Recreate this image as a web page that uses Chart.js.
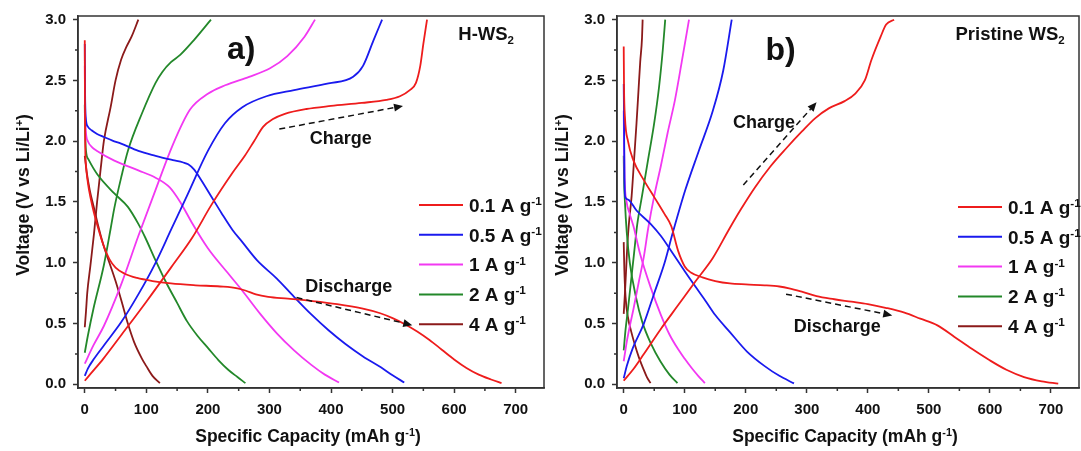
<!DOCTYPE html>
<html><head><meta charset="utf-8">
<script src="https://cdn.jsdelivr.net/npm/chart.js@4.4.1/dist/chart.umd.min.js"></script>
<style>
html,body{margin:0;padding:0;background:#fff;}
#wrap{position:relative;width:1081px;height:451px;overflow:hidden;background:#fff;}
#cA{position:absolute;left:0;top:0;width:548px;height:451px;}
#cB{position:absolute;left:539px;top:0;width:542px;height:451px;}
</style></head><body>
<div id="wrap"><canvas id="cA" width="548" height="451"></canvas><canvas id="cB" width="542" height="451"></canvas></div>
<script>
// ---------- data (Specific capacity mAh/g, Voltage V) ----------
const RATES = ['0.1', '0.5', '1', '2', '4'];
const COLORS = ['#ee1c1c', '#1a1aee', '#f238f2', '#23882a', '#8b1a1a'];

const X_TICKS = [0, 50, 100, 150, 200, 250, 300, 350, 400, 450, 500, 550, 600, 650, 700];
const X_LABELS = [0, 100, 200, 300, 400, 500, 600, 700];
const Y_TICKS = [0, 0.25, 0.5, 0.75, 1, 1.25, 1.5, 1.75, 2, 2.25, 2.5, 2.75, 3];
const Y_LABELS = [0, 0.5, 1, 1.5, 2, 2.5, 3];

// H-WS2 (panel a)
const H_D01 = [[0,2.83],[0.3,2.3],[0.8,1.95],[2,1.8],[5,1.66],[10,1.52],[15,1.41],[22,1.28],[30,1.15],[40,1.03],[50,0.96],[65,0.91],[85,0.875],[110,0.85],[140,0.83],[180,0.815],[220,0.805],[248,0.79],[262,0.77],[278,0.74],[298,0.72],[330,0.705],[370,0.685],[410,0.66],[450,0.625],[480,0.585],[500,0.545],[520,0.495],[540,0.435],[560,0.365],[580,0.285],[600,0.205],[620,0.135],[640,0.08],[660,0.04],[677,0.01]];
const H_C01 = [[0,0.03],[10,0.09],[30,0.21],[60,0.41],[100,0.68],[140,0.96],[175,1.21],[205,1.47],[240,1.74],[260,1.88],[275,2.0],[290,2.12],[305,2.18],[325,2.225],[360,2.265],[400,2.29],[450,2.315],[490,2.34],[512,2.37],[528,2.42],[538,2.48],[545,2.62],[550,2.8],[556,3.0]];
const H_D05 = [[0,2.8],[0.5,2.4],[1.5,2.2],[5,2.12],[11,2.09],[20,2.06],[31,2.035],[45,2.005],[59,1.98],[87,1.92],[115,1.88],[143,1.845],[160,1.825],[168,1.81],[177,1.77],[188,1.69],[205,1.55],[222,1.41],[240,1.27],[256,1.17],[280,1.02],[312,0.87],[340,0.72],[368,0.575],[396,0.445],[424,0.33],[452,0.23],[481,0.14],[500,0.075],[519,0.015]];
const H_C05 = [[0,0.07],[5,0.13],[15,0.21],[31,0.32],[59,0.51],[87,0.74],[115,1.0],[140,1.27],[166,1.55],[200,1.92],[228,2.15],[256,2.28],[295,2.37],[340,2.42],[396,2.475],[436,2.53],[452,2.62],[469,2.83],[483,3.0]];
const H_D1 = [[0,2.62],[0.5,2.3],[1.5,2.1],[5,2.0],[12,1.95],[20,1.92],[48,1.84],[87,1.76],[115,1.7],[138,1.62],[155,1.5],[174,1.33],[200,1.12],[230,0.93],[256,0.77],[285,0.58],[312,0.42],[340,0.28],[368,0.16],[390,0.08],[413,0.015]];
const H_C1 = [[0,0.17],[14,0.32],[31,0.48],[59,0.82],[87,1.22],[115,1.6],[143,1.97],[171,2.26],[200,2.39],[228,2.46],[267,2.53],[301,2.6],[329,2.7],[357,2.86],[374,3.0]];
const H_D2 = [[0,2.3],[0.5,2.1],[2,1.92],[6,1.85],[20,1.73],[48,1.57],[70,1.46],[87,1.32],[98,1.21],[115,1.02],[132,0.84],[150,0.67],[166,0.52],[183,0.4],[200,0.3],[217,0.2],[233,0.12],[248,0.06],[261,0.01]];
const H_C2 = [[0,0.26],[5,0.4],[14,0.62],[31,0.98],[42,1.28],[48,1.45],[60,1.72],[70,1.92],[93,2.23],[115,2.48],[126,2.57],[140,2.65],[155,2.71],[177,2.83],[205,3.0]];
const H_D4 = [[0,1.88],[3,1.75],[8,1.6],[15,1.45],[22,1.3],[30,1.15],[40,1.0],[50,0.85],[60,0.68],[70,0.5],[80,0.35],[93,0.21],[100,0.15],[110,0.07],[122,0.01]];
const H_C4 = [[0,0.47],[2,0.6],[4,0.75],[9,0.97],[15,1.24],[20,1.5],[26,1.78],[31,2.0],[42,2.28],[50,2.5],[59,2.67],[68,2.78],[76,2.86],[87,3.0]];

// Pristine WS2 (panel b)
const P_D01 = [[0,2.78],[0.5,2.45],[2,2.2],[7,2.0],[16,1.84],[33,1.68],[50,1.54],[67,1.4],[78,1.3],[89,1.1],[100,0.97],[110,0.92],[129,0.88],[150,0.85],[174,0.83],[200,0.822],[231,0.815],[255,0.805],[271,0.79],[293,0.76],[316,0.725],[345,0.7],[373,0.68],[400,0.66],[429,0.63],[460,0.59],[486,0.54],[514,0.485],[542,0.39],[571,0.29],[599,0.2],[627,0.12],[656,0.06],[685,0.025],[712,0.006]];
const P_C01 = [[0,0.03],[15,0.12],[33,0.25],[60,0.45],[89,0.65],[118,0.85],[146,1.04],[172,1.27],[192,1.44],[215,1.62],[240,1.79],[266,1.94],[292,2.08],[314,2.19],[336,2.27],[362,2.33],[379,2.39],[395,2.5],[406,2.67],[421,2.86],[430,2.96],[443,3.0]];
const P_D05 = [[0,2.47],[0.5,2.2],[1.2,1.7],[2.5,1.54],[7,1.52],[21,1.43],[44,1.32],[61,1.22],[80,1.08],[100,0.93],[118,0.8],[135,0.68],[150,0.57],[174,0.43],[202,0.27],[231,0.15],[255,0.07],[279,0.008]];
const P_C05 = [[0,0.05],[5,0.15],[15,0.3],[33,0.5],[50,0.75],[67,1.0],[80,1.24],[101,1.6],[123,1.92],[146,2.25],[163,2.58],[177,3.0]];
const P_D1 = [[0,2.25],[0.5,2.0],[1.5,1.7],[4.5,1.51],[10,1.4],[16,1.3],[27,1.07],[44,0.8],[61,0.57],[75,0.41],[89,0.29],[100,0.21],[112,0.13],[122,0.07],[133,0.01]];
const P_C1 = [[0,0.19],[5,0.35],[10,0.48],[16,0.62],[25,0.85],[33,1.05],[40,1.28],[50,1.55],[61,1.8],[72,2.07],[84,2.34],[95,2.65],[107,3.0]];
const P_D2 = [[0,1.88],[0.5,1.7],[2,1.5],[5,1.25],[10,1.0],[20,0.72],[30,0.52],[45,0.33],[60,0.19],[75,0.08],[88,0.01]];
const P_C2 = [[0,0.28],[3,0.45],[7,0.62],[12,0.85],[17,1.08],[22,1.31],[30,1.55],[40,1.85],[50,2.15],[58,2.45],[64,2.75],[68,3.0]];
const P_D4 = [[0,1.17],[1,0.95],[3,0.72],[7,0.55],[12,0.44],[18,0.33],[25,0.22],[32,0.13],[38,0.06],[44,0.01]];
const P_C4 = [[0,0.58],[2,0.75],[4,0.95],[6,1.15],[9,1.35],[13,1.55],[17,1.85],[21,2.15],[24,2.4],[27,2.65],[30,2.85],[31,3.0]];

const H_SERIES = [[H_D01,H_C01],[H_D05,H_C05],[H_D1,H_C1],[H_D2,H_C2],[H_D4,H_C4]];
const P_SERIES = [[P_D01,P_C01],[P_D05,P_C05],[P_D1,P_C1],[P_D2,P_C2],[P_D4,P_C4]];

// annotations (data coordinates)
const H_NOTES = {
  panel: {text:[['a)',0]], x:254, y:2.77, size:32},
  sample: {text:[['H-WS',0],['2','sub']], x:652, y:2.89, size:18.5},
  labels: [{text:[['Charge',0]], x:416, y:2.03, size:18},{text:[['Discharge',0]], x:429, y:0.816, size:18}],
  arrows: [[316,2.10,517,2.29],[344,0.714,532,0.487]]
};
const P_NOTES = {
  panel: {text:[['b)',0]], x:257, y:2.76, size:32},
  sample: {text:[['Pristine WS',0],['2','sub']], x:633, y:2.89, size:18.5},
  labels: [{text:[['Charge',0]], x:230, y:2.16, size:18},{text:[['Discharge',0]], x:350, y:0.487, size:18}],
  arrows: [[196,1.64,316,2.32],[266,0.742,440,0.567]]
};

const FONT = '"Liberation Sans", Arial, Helvetica, sans-serif';
const INK = '#111';
const FRAME = '#333';

function drawRich(ctx, parts, x, y, size, align, rot) {
  ctx.save();
  ctx.translate(x, y);
  if (rot) ctx.rotate(rot);
  const segs = parts.map(p => {
    const s = p[1] ? size * 0.62 : size;
    ctx.font = `bold ${s}px ${FONT}`;
    const dy = p[1] === 'sup' ? -size * 0.36 : (p[1] === 'sub' ? size * 0.24 : 0);
    return {t: p[0], s, dy, w: ctx.measureText(p[0]).width};
  });
  const total = segs.reduce((a, b) => a + b.w, 0);
  let cx = align === 'left' ? 0 : (align === 'right' ? -total : -total / 2);
  ctx.textBaseline = 'alphabetic';
  ctx.fillStyle = INK;
  for (const g of segs) {
    ctx.font = `bold ${g.s}px ${FONT}`;
    ctx.fillText(g.t, cx, size * 0.36 + g.dy);
    cx += g.w;
  }
  ctx.restore();
}

function arrow(ctx, x0, y0, x1, y1) {
  const ang = Math.atan2(y1 - y0, x1 - x0);
  const L = 9, H = 4;
  const bx = x1 - L * Math.cos(ang), by = y1 - L * Math.sin(ang);
  ctx.save();
  ctx.strokeStyle = INK; ctx.fillStyle = INK; ctx.lineWidth = 1.5;
  ctx.setLineDash([6, 4]);
  ctx.beginPath(); ctx.moveTo(x0, y0); ctx.lineTo(bx, by); ctx.stroke();
  ctx.setLineDash([]);
  ctx.beginPath();
  ctx.moveTo(x1, y1);
  ctx.lineTo(bx + H * Math.sin(ang), by - H * Math.cos(ang));
  ctx.lineTo(bx - H * Math.sin(ang), by + H * Math.cos(ang));
  ctx.closePath(); ctx.fill();
  ctx.restore();
}

function makeChart(canvasId, series, notes, padR, legendY0) {
  const datasets = [];
  series.forEach((pair, i) => {
    pair.forEach((arr, k) => {
      datasets.push({
        label: RATES[i] + ' A g-1' + (k ? ' charge' : ' discharge'),
        data: arr.map(p => ({x: p[0], y: p[1]})),
        borderColor: COLORS[i],
        borderWidth: 1.8,
        pointRadius: 0,
        fill: false,
        cubicInterpolationMode: 'monotone'
      });
    });
  });

  const decor = {
    id: 'decor',
    afterDraw(chart) {
      const ctx = chart.ctx, a = chart.chartArea;
      const xs = chart.scales.x, ys = chart.scales.y;
      // frame
      ctx.save();
      ctx.strokeStyle = FRAME; ctx.lineWidth = 1.5;
      ctx.strokeRect(a.left, a.top, a.right - a.left, a.bottom - a.top);
      // minor ticks
      ctx.beginPath();
      X_TICKS.filter(v => !X_LABELS.includes(v)).forEach(v => {
        const px = xs.getPixelForValue(v);
        ctx.moveTo(px, a.bottom); ctx.lineTo(px, a.bottom + 3);
      });
      Y_TICKS.filter(v => !Y_LABELS.includes(v)).forEach(v => {
        const py = ys.getPixelForValue(v);
        ctx.moveTo(a.left, py); ctx.lineTo(a.left - 3, py);
      });
      ctx.stroke();
      ctx.restore();
      // axis titles
      drawRich(ctx, [['Specific Capacity (mAh g',0],['-1','sup'],[')',0]], (a.left + a.right) / 2 - 3, 436, 17.5, 'center', 0);
      drawRich(ctx, [['Voltage (V vs Li/Li',0],['+','sup'],[')',0]], 22.5, 195, 17.5, 'center', -Math.PI / 2);
      // legend
      for (let i = 0; i < RATES.length; i++) {
        const y = legendY0 + i * 29.8;
        ctx.save();
        ctx.strokeStyle = COLORS[i]; ctx.lineWidth = 2;
        ctx.beginPath(); ctx.moveTo(419, y); ctx.lineTo(463, y); ctx.stroke();
        ctx.restore();
        drawRich(ctx, [[RATES[i] + ' A g',0],['-1','sup']], 469, y, 19, 'left', 0);
      }
      // annotations
      const P = (n) => [xs.getPixelForValue(n.x), ys.getPixelForValue(n.y)];
      let p = P(notes.panel); drawRich(ctx, notes.panel.text, p[0], p[1], notes.panel.size, 'center', 0);
      p = P(notes.sample); drawRich(ctx, notes.sample.text, p[0], p[1], notes.sample.size, 'center', 0);
      notes.labels.forEach(l => { const q = P(l); drawRich(ctx, l.text, q[0], q[1], l.size, 'center', 0); });
      notes.arrows.forEach(r => arrow(ctx, xs.getPixelForValue(r[0]), ys.getPixelForValue(r[1]), xs.getPixelForValue(r[2]), ys.getPixelForValue(r[3])));
    }
  };

  return new Chart(document.getElementById(canvasId), {
    type: 'line',
    data: {datasets},
    plugins: [decor],
    options: {
      responsive: false,
      animation: false,
      events: [],
      layout: {padding: {left: 0, right: padR, top: 15, bottom: 0}},
      plugins: {legend: {display: false}, tooltip: {enabled: false}},
      scales: {
        x: {
          type: 'linear', min: -11, max: 746,
          afterBuildTicks: s => { s.ticks = X_LABELS.map(v => ({value: v})); },
          afterFit: s => { s.height = 63; },
          ticks: {
            autoSkip: false, maxRotation: 0, padding: 8, color: INK,
            font: {family: FONT, size: 15, weight: 'bold'},
            callback: v => String(v)
          },
          grid: {drawOnChartArea: false, drawTicks: true, tickLength: 5, tickColor: FRAME, tickWidth: 1.5},
          border: {display: true, color: FRAME, width: 1.5}
        },
        y: {
          type: 'linear', min: -0.03, max: 3.03,
          afterBuildTicks: s => { s.ticks = Y_LABELS.map(v => ({value: v})); },
          afterFit: s => { s.width = 78; },
          ticks: {
            autoSkip: false, padding: 7, color: INK,
            font: {family: FONT, size: 15, weight: 'bold'},
            callback: v => Number(v).toFixed(1)
          },
          grid: {drawOnChartArea: false, drawTicks: true, tickLength: 5, tickColor: FRAME, tickWidth: 1.5},
          border: {display: true, color: FRAME, width: 1.5}
        }
      }
    }
  });
}

makeChart('cA', H_SERIES, H_NOTES, 4, 205);
makeChart('cB', P_SERIES, P_NOTES, 2, 207);
</script>
</body></html>
